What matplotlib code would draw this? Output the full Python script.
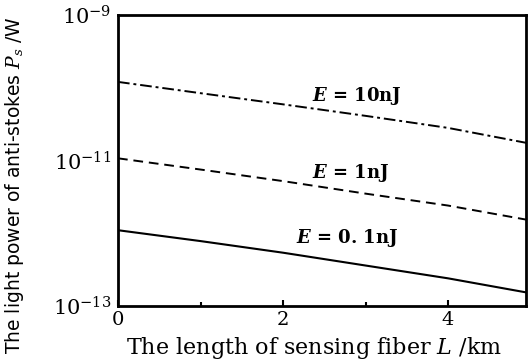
import numpy as np
import matplotlib.pyplot as plt

# fiber length (km) and anti-stokes power (W) for three pulse energies
L = [0, 1, 2, 3, 4, 5]
p_10nJ = [1.2e-10, 8.4e-11, 5.9e-11, 4.1e-11, 2.8e-11, 1.7e-11]
p_1nJ = [1.07e-11, 7.5e-12, 5.2e-12, 3.5e-12, 2.4e-12, 1.5e-12]
p_01nJ = [1.1e-12, 7.8e-13, 5.4e-13, 3.6e-13, 2.4e-13, 1.5e-13]

labels = ['$\\mathbfit{E}$ = 10nJ', '$\\mathbfit{E}$ = 1nJ', '$\\mathbfit{E}$ = 0. 1nJ']
label_x = [2.9, 2.82, 2.78]
label_y = [7.6e-11, 6.8e-12, 8.5e-13]

plt.rcParams['font.family'] = 'DejaVu Serif'
plt.rcParams['mathtext.fontset'] = 'dejavuserif'

fig = plt.figure(figsize=(5.28, 3.63), dpi=100)
ax = fig.add_axes([0.2235, 0.157, 0.772, 0.802])

ax.plot(L, p_10nJ, color='black', lw=1.4, linestyle=(0, (6, 2, 1.5, 2)))
ax.plot(L, p_1nJ, color='black', lw=1.4, linestyle=(0, (5, 3)))
ax.plot(L, p_01nJ, color='black', lw=1.5)

ax.set_yscale('log')
ax.set_xlim(0, 4.94)
ax.set_ylim(1e-13, 1e-9)
ax.set_yticks([1e-13, 1e-11, 1e-9])
ax.set_yticklabels(['$10^{-13}$', '$10^{-11}$', '$10^{-9}$'])
ax.minorticks_off()
ax.set_xticks([0, 2, 4])
ax.set_xticks([1, 3], minor=True)
ax.tick_params(axis='both', which='major', direction='in', length=4, width=1.5, labelsize=14)
ax.tick_params(axis='y', labelsize=15)
ax.tick_params(axis='x', which='minor', direction='in', length=3, width=1.5)
ax.tick_params(axis='y', which='major', length=0, pad=5)

for s in ax.spines.values():
    s.set_linewidth(2)

for x, y, t in zip(label_x, label_y, labels):
    ax.text(x, y, t, fontsize=13, fontweight='bold', ha='center', va='center')

ax.set_xlabel('The length of sensing fiber $L$ /km', fontsize=16)
ax.xaxis.set_label_coords(0.48, -0.1)
ax.set_ylabel('The light power of anti-stokes $P_s$ /W', fontsize=13.5, family='DejaVu Sans')
ax.yaxis.set_label_coords(-0.225, 0.415)

fig.savefig('out.png', dpi=100)
